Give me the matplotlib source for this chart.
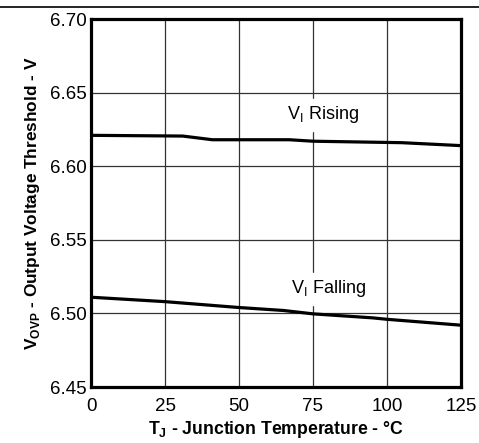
import matplotlib
matplotlib.use("Agg")
import matplotlib.pyplot as plt
from matplotlib.lines import Line2D

plt.rcParams['font.family'] = ['Liberation Sans', 'DejaVu Sans']
plt.rcParams['mathtext.fontset'] = 'custom'
plt.rcParams['mathtext.rm'] = 'Liberation Sans'
plt.rcParams['mathtext.bf'] = 'Liberation Sans:bold'

# data
temp_rising = [0, 31, 41, 67, 75, 90, 105, 125]
v_rising = [6.621, 6.6205, 6.618, 6.618, 6.617, 6.6165, 6.616, 6.614]
temp_falling = [0, 25, 50, 65, 75, 95, 100, 125]
v_falling = [6.511, 6.508, 6.504, 6.502, 6.4997, 6.497, 6.496, 6.492]
x_ticks = [0, 25, 50, 75, 100, 125]
y_ticks = [6.45, 6.50, 6.55, 6.60, 6.65, 6.70]

fig = plt.figure(figsize=(4.79, 4.43), dpi=100)
ax = fig.add_axes([0.190, 0.1264, 0.7724, 0.8306])

# rule across the top of the page
fig.add_artist(Line2D([0, 1], [1 - 7 / 443, 1 - 7 / 443], color='black', lw=1.2,
                      transform=fig.transFigure))

ax.plot(temp_rising, v_rising, color='black', lw=2.3)
ax.plot(temp_falling, v_falling, color='black', lw=2.3)

ax.set_xlim(0, 125)
ax.set_ylim(6.45, 6.70)
ax.set_xticks(x_ticks)
ax.set_yticks(y_ticks)
ax.set_xticklabels([str(t) for t in x_ticks], fontsize=13.5)
ax.set_yticklabels(['%.2f' % v for v in y_ticks], fontsize=13.5)
ax.tick_params(axis='y', length=0, pad=3)
ax.tick_params(axis='x', length=0, pad=8)
ax.grid(True, color='#333333', lw=0.9)
ax.set_axisbelow(True)
for s in ax.spines.values():
    s.set_linewidth(2.3)

ax.text(78.4, 6.635, r'V$_\mathrm{I}$ Rising', ha='center', va='center', fontsize=13,
        backgroundcolor='white')
ax.text(80.4, 6.5166, r'V$_\mathrm{I}$ Falling', ha='center', va='center', fontsize=13,
        backgroundcolor='white')

ax.set_xlabel(r'T$_\mathbf{J}$ - Junction Temperature - °C', fontsize=12.7,
              fontweight='bold', labelpad=3)
ax.set_ylabel(r'V$_\mathbf{OVP}$ - Output Voltage Threshold - V', fontsize=12.4,
              fontweight='bold', labelpad=6)

fig.savefig('out.png', dpi=100)
